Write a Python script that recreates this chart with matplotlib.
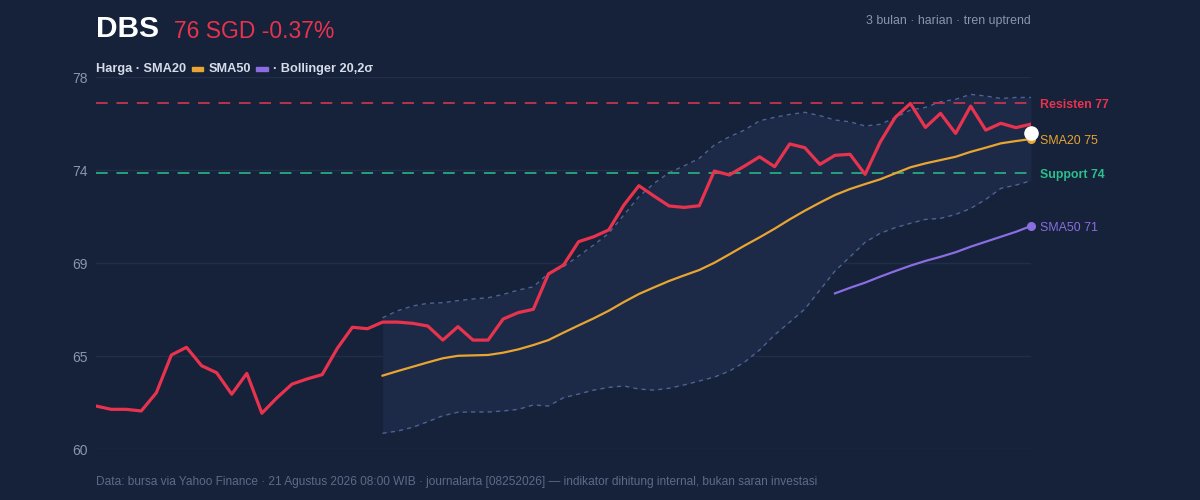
import matplotlib
matplotlib.use("Agg")
from matplotlib import pyplot as plt
from matplotlib.offsetbox import TextArea, HPacker, AnchoredOffsetbox, DrawingArea
from matplotlib.patches import Rectangle
import numpy as np

plt.rcParams['font.family'] = ['Liberation Sans', 'DejaVu Sans']

# daily closes, 3 months
price = [62.08, 61.92, 61.92, 61.84, 62.72, 64.55, 64.92, 64.03, 63.69, 62.65,
         63.66, 61.73, 62.48, 63.14, 63.39, 63.60, 64.87, 65.89, 65.82, 66.14,
         66.14, 66.08, 65.95, 65.27, 65.92, 65.27, 65.27, 66.29, 66.60, 66.76,
         68.47, 68.90, 70.03, 70.27, 70.60, 71.80, 72.74, 72.24, 71.76, 71.69,
         71.77, 73.45, 73.26, 73.69, 74.14, 73.66, 74.76, 74.58, 73.77, 74.21,
         74.26, 73.29, 74.85, 76.05, 76.72, 75.56, 76.24, 75.27, 76.59, 75.43,
         75.76, 75.55, 75.72]

# starts at index 19
sma20 = [63.55, 63.77, 63.98, 64.19, 64.39, 64.51, 64.53, 64.55, 64.66, 64.82,
         65.03, 65.27, 65.63, 65.98, 66.32, 66.69, 67.11, 67.50, 67.82, 68.13,
         68.40, 68.66, 69.01, 69.42, 69.84, 70.24, 70.66, 71.11, 71.53, 71.92,
         72.29, 72.58, 72.82, 73.05, 73.34, 73.63, 73.82, 73.98, 74.14, 74.38,
         74.58, 74.79, 74.90, 75.00]
bb_upper = [66.35, 66.69, 66.92, 67.05, 67.08, 67.18, 67.26, 67.32, 67.48, 67.69,
            67.85, 68.50, 68.82, 69.34, 69.87, 70.44, 71.32, 72.21, 72.85, 73.37,
            73.70, 74.06, 74.71, 75.11, 75.43, 75.88, 76.05, 76.19, 76.29, 76.13,
            75.92, 75.83, 75.63, 75.71, 76.03, 76.40, 76.53, 76.80, 76.92, 77.16,
            77.08, 76.96, 77.01, 77.01]
bb_lower = [60.76, 60.87, 61.05, 61.32, 61.61, 61.78, 61.79, 61.79, 61.84, 61.92,
            62.13, 62.08, 62.48, 62.66, 62.85, 62.98, 63.05, 62.90, 62.85, 62.94,
            63.10, 63.29, 63.48, 63.77, 64.20, 64.79, 65.52, 66.14, 66.77, 67.69,
            68.61, 69.30, 70.00, 70.44, 70.71, 70.92, 71.11, 71.16, 71.35, 71.64,
            72.08, 72.61, 72.77, 72.98]
# starts at index 49
sma50 = [67.53, 67.80, 68.05, 68.34, 68.61, 68.87, 69.10, 69.30, 69.52, 69.79,
         70.03, 70.27, 70.51, 70.79]

resisten = 76.74
support = 73.34
last_dot = 75.27

ytick_vals = [60, 64.5, 69, 73.5, 78]
ytick_labels = ["60", "65", "69", "74", "78"]

BG = "#16213a"
RED = "#e8334f"
ORANGE = "#e8a531"
PURPLE = "#8a6de0"
GREEN = "#2bbf8e"
MUTED = "#8a96ad"

x = np.arange(len(price))
x20 = np.arange(19, len(price))
x50 = np.arange(49, len(price))

fig = plt.figure(figsize=(12, 5), dpi=100, facecolor=BG)
ax = fig.add_axes([96/1200, 51/500, 935/1200, 372/500])
ax.set_facecolor(BG)
ax.set_xlim(0, len(price) - 1)
ax.set_ylim(60, 78)

for v in ytick_vals:
    ax.axhline(v, color="#222e48", lw=1, zorder=0)

ax.fill_between(x20, bb_lower, bb_upper, color="#1d2a47", lw=0, zorder=1)
ax.plot(x20, bb_upper, color="#4d6393", lw=1, ls=(0, (3, 3)), zorder=2)
ax.plot(x20, bb_lower, color="#4d6393", lw=1, ls=(0, (3, 3)), zorder=2)

ax.axhline(resisten, color="#b8344f", lw=1.4, ls=(0, (6, 4.5)), zorder=2)
ax.axhline(support, color="#27a07c", lw=1.4, ls=(0, (6, 4.5)), zorder=2)

ax.plot(x20, sma20, color=ORANGE, lw=1.6, zorder=3)
ax.plot(x50, sma50, color=PURPLE, lw=1.6, zorder=3)
ax.plot(x, price, color=RED, lw=2.3, zorder=4, solid_joinstyle="round")

ax.plot(x20[-1], sma20[-1], "o", color=ORANGE, ms=5.5, zorder=5, clip_on=False)
ax.plot(x50[-1], sma50[-1], "o", color=PURPLE, ms=5.5, zorder=5, clip_on=False)
ax.plot(x[-1], last_dot, "o", color="white", ms=9.5, zorder=6, clip_on=False)

ax.set_yticks(ytick_vals)
ax.set_yticklabels(ytick_labels)
ax.set_xticks([])
ax.tick_params(axis="y", length=0, pad=6, labelsize=10, labelcolor=MUTED)
for s in ax.spines.values():
    s.set_visible(False)

# right-side labels
tx = len(price) - 1 + 0.6
lbl = dict(fontsize=8.9, va="center_baseline", ha="left", clip_on=False)
ax.text(tx, resisten, "Resisten 77", color=RED, fontweight="bold", **lbl)
ax.text(tx, sma20[-1], "SMA20 75", color=ORANGE, **lbl)
ax.text(tx, support, "Support 74", color=GREEN, fontweight="bold", **lbl)
ax.text(tx, sma50[-1], "SMA50 71", color=PURPLE, **lbl)

# header
fig.text(96/1200, 1 - 29/500, "DBS", color="white", fontsize=21.5, fontweight="bold", va="center")
fig.text(174/1200, 1 - 31/500, "76 SGD -0.37%", color=RED, fontsize=16.5, va="center")
fig.text(1031/1200, 1 - 21/500, "3 bulan · harian · tren uptrend", color=MUTED, fontsize=8.9,
         ha="right", va="center")


def dash(color):
    d = DrawingArea(14, 8, 0, 0)
    d.add_artist(Rectangle((3, 2.5), 8, 3, color=color))
    return d


leg_col = "#d5dcea"
tp = dict(color=leg_col, fontsize=9.2, fontweight="bold")
parts = [TextArea("Harga · SMA20", textprops=tp), dash(ORANGE),
         TextArea("SMA50", textprops=tp), dash(PURPLE),
         TextArea("· Bollinger 20,2σ", textprops=tp)]
box = HPacker(children=parts, pad=0, sep=1, align="center")
anch = AnchoredOffsetbox(loc="lower left", child=box, pad=0, borderpad=0, frameon=False,
                         bbox_to_anchor=(96/1200, 1 - 75/500), bbox_transform=fig.transFigure)
fig.add_artist(anch)

fig.text(96/1200, 1 - 482/500,
         "Data: bursa via Yahoo Finance · 21 Agustus 2026 08:00 WIB · journalarta [08252026] — "
         "indikator dihitung internal, bukan saran investasi",
         color="#5d6b88", fontsize=8.6, va="center")

fig.savefig("out.png", dpi=100, facecolor=BG)
